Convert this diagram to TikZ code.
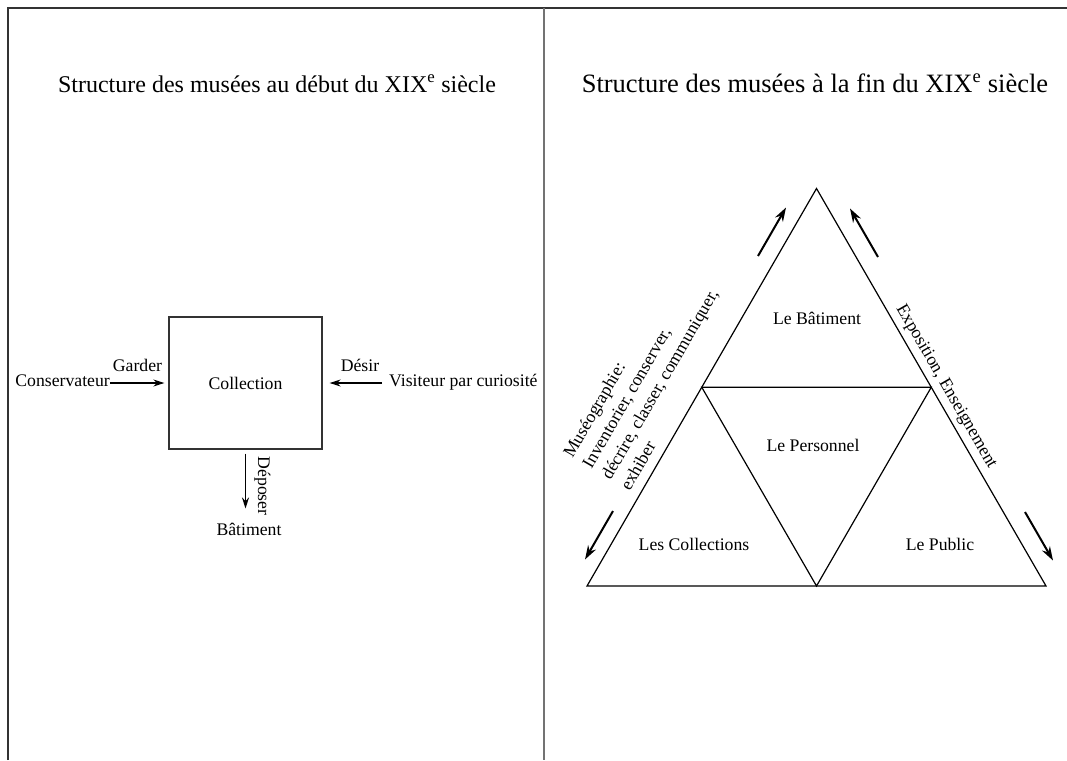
\documentclass[tikz,border=0pt]{standalone}
\usepackage{fontspec}
\setmainfont{Liberation Serif}
\usetikzlibrary{positioning}
\usetikzlibrary{calc}
\usetikzlibrary{arrows.meta}

\begin{document}
\begin{tikzpicture}
  [
    x=1pt, y=-1pt,
    frame/.style={
       draw=black!80,
       line width=1.6pt
    },
    lbl/.style={
       inner sep=0pt,
       font=\fontsize{17.7}{22}\selectfont
    },
    titre/.style={
       inner sep=0pt,
       anchor=base
    },
    box/.style={
       draw=black!80,
       line width=1.3pt,
       minimum width=153pt,
       minimum height=132pt
    },
    fl/.style={
       -{Stealth[length=11pt,width=7pt]},
       line width=1.3pt
    },
    side/.style={
       draw=black,
       line width=1.2pt
    },
    fat/.style={
       -{Stealth[length=14pt,width=9pt]},
       line width=2pt
    }
  ]
  \useasboundingbox (0,0) rectangle (1067,760);

  \draw [frame] (8,760) -- (8,8) -- (1067,8);
  \draw [frame, draw=black!55] (544,8) -- (544,760);

  \node (titreA) at (277,92) [titre, font=\fontsize{24}{28}\selectfont]
        {Structure des musées au début du XIX\textsuperscript{e} siècle};
  \node (titreB) at (815,92) [titre, font=\fontsize{26.5}{30}\selectfont]
        {Structure des musées à la fin du XIX\textsuperscript{e} siècle};

  % avant
  \node (coll) at (245.5,383) [box, lbl]                  {Collection};
  \node (cons) at (110,386)   [lbl, anchor=base east]     {Conservateur};
  \node (gard) at (137.5,371) [lbl, anchor=base]          {Garder};
  \node (vis)  at (389,386)   [lbl, anchor=base west]     {Visiteur par curiosité};
  \node (des)  at (360,371)   [lbl, anchor=base]          {Désir};
  \node (bat)  at (249,535)   [lbl, anchor=base]          {Bâtiment};
  \node (dep)  at (258,486)   [lbl, anchor=base, rotate=-90] {Déposer};

  \draw [fl] (cons.east |- coll.west) -- ([xshift=-4pt]coll.west);
  \draw [fl] ([xshift=-7pt]vis.west |- coll.east) -- ([xshift=7pt]coll.east);
  \draw [fl, shorten >=14pt] ([yshift=-4pt]coll.south) -- (coll.south |- bat.north);

  % apres
  \coordinate (A) at (587,586);
  \coordinate (B) at (1046,586);
  \coordinate (C) at (816.5,188.5);
  \coordinate (AC) at ($(A)!.5!(C)$);
  \coordinate (BC) at ($(B)!.5!(C)$);
  \coordinate (AB) at ($(A)!.5!(B)$);
  \draw [side] (A) -- (B) -- (C) -- cycle;
  \draw [side] (AC) -- (BC) -- (AB) -- cycle;

  \node (batim) at (817,318) [lbl] {Le Bâtiment};
  \node (pers)  at (813,445) [lbl] {Le Personnel};
  \node (colls) at (694,544) [lbl] {Les Collections};
  \node (pub)   at (940,544) [lbl] {Le Public};

  \node (museo) at (630,492) [lbl, rotate=60, anchor=south west, align=left]
        {Muséographie:\\Inventorier, conserver,\\décrire, classer, communiquer,\\exhiber};
  \node (expo) at (942.5,388.6) [lbl, rotate=-60, anchor=base]
        {Exposition, Enseignement};

  \coordinate (fa1) at (758,256);   \coordinate (fa2) at (786,207.5);
  \coordinate (fb1) at (878,257);   \coordinate (fb2) at (850,208.5);
  \coordinate (fc1) at (613,511);   \coordinate (fc2) at (585,559.5);
  \coordinate (fd1) at (1025,512);  \coordinate (fd2) at (1053,560.5);
  \draw [fat] (fa1) -- (fa2);
  \draw [fat] (fb1) -- (fb2);
  \draw [fat] (fc1) -- (fc2);
  \draw [fat] (fd1) -- (fd2);
\end{tikzpicture}
\end{document}
